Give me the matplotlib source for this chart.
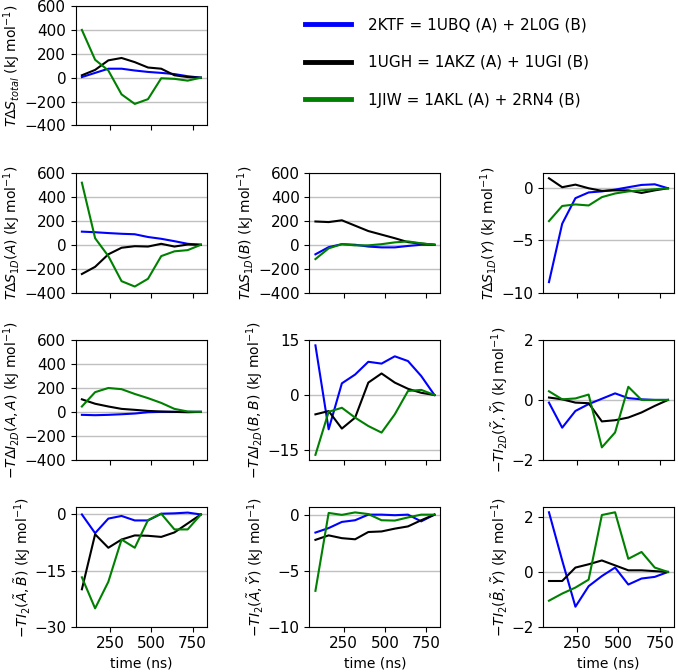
import numpy as np
import matplotlib
matplotlib.use('Agg')
import matplotlib.pyplot as plt


time = [80, 160, 240, 320, 400, 480, 560, 640, 720, 800]

labels = ['2KTF = 1UBQ (A) + 2L0G (B)',
          '1UGH = 1AKZ (A) + 1UGI (B)',
          '1JIW = 1AKL (A) + 2RN4 (B)']
colors = ['blue', 'black', 'green']

#T dS total
s_total_ktf = [5, 40, 75, 75, 60, 48, 40, 30, 12, 0]
s_total_ugh = [20, 65, 145, 165, 130, 85, 75, 20, 5, 0]
s_total_jiw = [400, 150, 60, -140, -220, -180, -5, -10, -25, 0]

#T dS 1D (A)
s1d_a_ktf = [110, 105, 98, 92, 88, 65, 50, 30, 8, 0]
s1d_a_ugh = [-245, -185, -80, -25, -12, -15, 8, -15, 2, 0]
s1d_a_jiw = [520, 55, -95, -305, -350, -285, -95, -55, -45, 0]

#T dS 1D (B)
s1d_b_ktf = [-80, -20, 5, 0, -15, -22, -22, -10, 0, 0]
s1d_b_ugh = [195, 190, 205, 160, 115, 85, 55, 22, 10, 0]
s1d_b_jiw = [-120, -30, 5, -5, -5, 5, 20, 28, 12, 0]

#T dS 1D (Y)
s1d_y_ktf = [-9.0, -3.4, -0.95, -0.4, -0.3, -0.13, 0.1, 0.32, 0.38, 0]
s1d_y_ugh = [0.96, 0.1, 0.35, 0.0, -0.25, -0.2, -0.2, -0.45, -0.2, 0]
s1d_y_jiw = [-3.15, -1.7, -1.55, -1.65, -0.85, -0.5, -0.3, -0.2, -0.1, 0]

#-T dI 2D (A,A)
i2d_aa_ktf = [-25, -28, -25, -20, -14, -3, 0, 0, 0, 0]
i2d_aa_ugh = [105, 68, 45, 25, 17, 8, 3, 0, -3, 0]
i2d_aa_jiw = [45, 165, 200, 190, 150, 115, 75, 25, 3, 0]

#-T dI 2D (B,B)
i2d_bb_ktf = [13.6, -9.4, 3.2, 5.6, 9.1, 8.6, 10.6, 9.3, 5.2, 0]
i2d_bb_ugh = [-5.3, -4.4, -9.2, -6.2, 3.4, 5.9, 3.4, 1.7, 0.6, 0]
i2d_bb_jiw = [-16.4, -4.6, -3.5, -6.2, -8.5, -10.3, -5.3, 1.1, 1.4, 0]

#-T I 2D (Y,Y)
i2d_yy_ktf = [-0.09, -0.93, -0.37, -0.14, 0.04, 0.22, 0.06, 0.02, 0.0, 0]
i2d_yy_ugh = [0.08, 0.02, -0.09, -0.11, -0.72, -0.68, -0.59, -0.42, -0.2, 0]
i2d_yy_jiw = [0.29, 0.02, 0.05, 0.18, -1.59, -1.09, 0.44, 0.0, 0.0, 0]

#-T I2 (A,B)
i2_ab_ktf = [0, -5.0, -1.1, -0.4, -1.6, -1.6, 0.2, 0.3, 0.5, 0]
i2_ab_ugh = [-20, -5.3, -8.9, -6.7, -5.6, -5.7, -6.0, -4.8, -2.4, 0]
i2_ab_jiw = [-16.8, -25.1, -18, -6.7, -8.9, -1.5, 0.2, -4.0, -4.0, 0]

#-T I2 (A,Y)
i2_ay_ktf = [-1.6, -1.2, -0.65, -0.5, 0, 0, -0.05, 0, -0.6, 0]
i2_ay_ugh = [-2.25, -1.85, -2.1, -2.2, -1.55, -1.5, -1.25, -1.05, -0.5, 0]
i2_ay_jiw = [-6.8, 0.15, -0.02, 0.2, 0.05, -0.5, -0.53, -0.25, 0, 0]

#-T I2 (B,Y)
i2_by_ktf = [2.18, 0.42, -1.27, -0.52, -0.15, 0.16, -0.46, -0.24, -0.18, 0]
i2_by_ugh = [-0.33, -0.33, 0.16, 0.28, 0.42, 0.24, 0.06, 0.06, 0.03, 0]
i2_by_jiw = [-1.05, -0.79, -0.57, -0.28, 2.08, 2.18, 0.48, 0.73, 0.16, 0]

unit = ' (kJ mol$^{-1}$)'

panels = [
    (0, 0, [s_total_ktf, s_total_ugh, s_total_jiw], r'$T\Delta S_{total}$', (-400, 600), [-400, -200, 0, 200, 400, 600]),
    (1, 0, [s1d_a_ktf, s1d_a_ugh, s1d_a_jiw], r'$T\Delta S_{1D}(A)$', (-400, 600), [-400, -200, 0, 200, 400, 600]),
    (1, 1, [s1d_b_ktf, s1d_b_ugh, s1d_b_jiw], r'$T\Delta S_{1D}(B)$', (-400, 600), [-400, -200, 0, 200, 400, 600]),
    (1, 2, [s1d_y_ktf, s1d_y_ugh, s1d_y_jiw], r'$T\Delta S_{1D}(Y)$', (-10, 1.45), [-10, -5, 0]),
    (2, 0, [i2d_aa_ktf, i2d_aa_ugh, i2d_aa_jiw], r'$-T\Delta I_{2D}(A,A)$', (-400, 600), [-400, -200, 0, 200, 400, 600]),
    (2, 1, [i2d_bb_ktf, i2d_bb_ugh, i2d_bb_jiw], r'$-T\Delta I_{2D}(B,B)$', (-17.7, 15), [-15, 0, 15]),
    (2, 2, [i2d_yy_ktf, i2d_yy_ugh, i2d_yy_jiw], r'$-TI_{2D}(\tilde{Y},\tilde{Y})$', (-2, 2), [-2, 0, 2]),
    (3, 0, [i2_ab_ktf, i2_ab_ugh, i2_ab_jiw], r'$-TI_{2}(\tilde{A},\tilde{B})$', (-30, 1.9), [-30, -15, 0]),
    (3, 1, [i2_ay_ktf, i2_ay_ugh, i2_ay_jiw], r'$-TI_{2}(\tilde{A},\tilde{Y})$', (-10, 0.65), [-10, -5, 0]),
    (3, 2, [i2_by_ktf, i2_by_ugh, i2_by_jiw], r'$-TI_{2}(\tilde{B},\tilde{Y})$', (-2, 2.36), [-2, 0, 2]),
]

fig, axes = plt.subplots(4, 3, figsize=(6.78, 6.72), dpi=100)
fig.subplots_adjust(left=0.112, right=0.994, top=0.991, bottom=0.0674,
                    wspace=0.784, hspace=0.4)

axes[0, 1].axis('off')
axes[0, 2].axis('off')

handles = []
for row, col, series, name, ylim, yticks in panels:
    ax = axes[row, col]
    for vals, c in zip(series, colors):
        h, = ax.plot(time, vals, color=c, lw=1.5)
        if row == 0:
            handles.append(h)
    ax.set_ylim(ylim)
    ax.set_yticks(yticks)
    ax.set_xticks([250, 500, 750])
    ax.yaxis.grid(True, color='#c0c0c0', lw=1)
    ax.set_axisbelow(True)
    ax.tick_params(labelsize=11)
    ax.set_ylabel(name + unit, fontsize=10, labelpad=1)
    if row == 3:
        ax.set_xlabel('time (ns)', fontsize=10)
    else:
        ax.set_xticklabels([])

fig.legend(handles, labels, loc='upper left', bbox_to_anchor=(305/678, 1-17/672),
           frameon=False, fontsize=11, handlelength=3, handletextpad=1.1,
           labelspacing=1.5, borderpad=0, borderaxespad=0)

for h in fig.legends[0].get_lines():
    h.set_linewidth(3.5)

plt.savefig('out.png')
